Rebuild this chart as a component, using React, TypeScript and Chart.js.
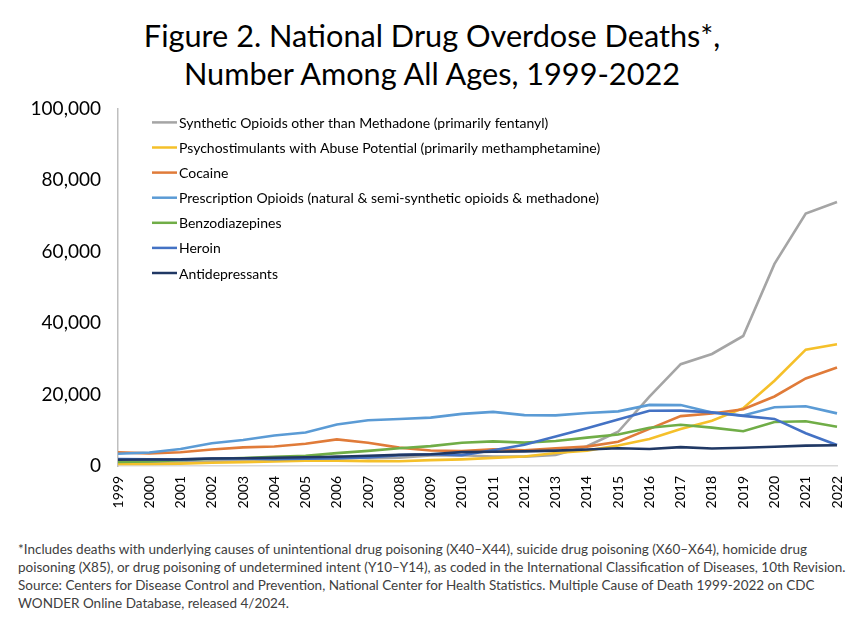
import React, { useEffect, useRef } from "react";
import { Chart, registerables } from "chart.js";

Chart.register(...registerables);

const years = ["1999","2000","2001","2002","2003","2004","2005","2006","2007","2008","2009","2010","2011","2012","2013","2014","2015","2016","2017","2018","2019","2020","2021","2022"];

const seriesNames = [
  "Synthetic Opioids other than Methadone (primarily fentanyl)",
  "Psychostimulants with Abuse Potential (primarily methamphetamine)",
  "Cocaine",
  "Prescription Opioids (natural & semi-synthetic opioids & methadone)",
  "Benzodiazepines",
  "Heroin",
  "Antidepressants",
];

const syntheticOpioids = [730, 782, 957, 1295, 1400, 1664, 1742, 2707, 2213, 2306, 2946, 3007, 2666, 2628, 3105, 5544, 9580, 19413, 28466, 31335, 36359, 56516, 70601, 73838];
const psychostimulants = [547, 578, 660, 890, 1097, 1278, 1460, 1499, 1363, 1314, 1630, 1854, 2266, 2635, 3627, 4298, 5716, 7542, 10333, 12676, 16167, 23837, 32537, 34022];
const cocaine = [3822, 3544, 3833, 4599, 5199, 5443, 6208, 7448, 6512, 5129, 4350, 4183, 4681, 4404, 4944, 5415, 6784, 10375, 13942, 14666, 15883, 19447, 24486, 27569];
const prescriptionOpioids = [3442, 3785, 4770, 6353, 7284, 8534, 9387, 11589, 12796, 13149, 13523, 14583, 15140, 14240, 14145, 14838, 15281, 17087, 17029, 14975, 14139, 16416, 16706, 14716];
const benzodiazepines = [1135, 1298, 1594, 2007, 2248, 2585, 2834, 3609, 4217, 4969, 5553, 6497, 6872, 6524, 6973, 7945, 8791, 10684, 11537, 10724, 9711, 12290, 12499, 10964];
const heroin = [1960, 1842, 1779, 2089, 2080, 1878, 2009, 2088, 2399, 3041, 3278, 3036, 4397, 5925, 8257, 10574, 12989, 15469, 15482, 14996, 14019, 13165, 9173, 5871];
const antidepressants = [1749, 1810, 1850, 2108, 2150, 2300, 2450, 2600, 2850, 3100, 3300, 3889, 3995, 4100, 4300, 4600, 4950, 4750, 5269, 4900, 5100, 5400, 5700, 5800];

const seriesValues = [syntheticOpioids, psychostimulants, cocaine, prescriptionOpioids, benzodiazepines, heroin, antidepressants];
const seriesColors = ["#A5A5A5", "#F5C02A", "#E07B39", "#5B9BD5", "#70AD47", "#4472C4", "#203864"];

const yTicks = [0, 20000, 40000, 60000, 80000, 100000];

const FONT = "Lato, 'Open Sans', sans-serif";

const legendPlugin = {
  id: "insideLegend",
  afterDraw(chart: any) {
    const { ctx, chartArea } = chart;
    const x0 = chartArea.left + 34;
    const y0 = chartArea.top + 14;
    ctx.save();
    ctx.font = `14px ${FONT}`;
    ctx.textBaseline = "middle";
    ctx.textAlign = "left";
    chart.data.datasets.forEach((ds: any, i: number) => {
      const y = y0 + i * 25.1;
      ctx.strokeStyle = ds.borderColor;
      ctx.lineWidth = 2.5;
      ctx.beginPath();
      ctx.moveTo(x0, y);
      ctx.lineTo(x0 + 25, y);
      ctx.stroke();
      ctx.fillStyle = "#000000";
      ctx.fillText(ds.label, x0 + 27, y + 1);
    });
    ctx.restore();
  },
};

function DrugChart() {
  const ref = useRef<HTMLCanvasElement | null>(null);
  useEffect(() => {
    if (!ref.current) return;
    const chart = new Chart(ref.current, {
      type: "line",
      data: {
        labels: years,
        datasets: seriesNames.map((name, i) => ({
          label: name,
          data: seriesValues[i],
          borderColor: seriesColors[i],
          backgroundColor: seriesColors[i],
          borderWidth: 2.6,
          pointRadius: 0,
          tension: 0,
          fill: false,
          order: seriesNames.length - i,
        })),
      },
      options: {
        responsive: false,
        animation: false,
        devicePixelRatio: 1,
        layout: { padding: { left: 0, right: 27, top: 0, bottom: 0 } },
        plugins: {
          legend: { display: false },
          title: { display: false },
          tooltip: { enabled: false },
        },
        scales: {
          x: {
            offset: false,
            grid: { display: false, drawTicks: false },
            border: { display: true, color: "#D9D9D9", width: 1.5 },
            ticks: {
              autoSkip: false,
              minRotation: 90,
              maxRotation: 90,
              padding: 10,
              color: "#000000",
              font: { family: FONT, size: 14 },
            },
            afterFit(scale: any) {
              scale.height = 59;
            },
          },
          y: {
            min: 0,
            max: 100000,
            afterBuildTicks(scale: any) {
              scale.ticks = yTicks.map((v) => ({ value: v }));
            },
            grid: { display: false, drawTicks: false },
            border: { display: true, color: "#BFBFBF", width: 1.5 },
            ticks: {
              padding: 17,
              color: "#000000",
              font: { family: FONT, size: 19 },
              callback: (v: any) => Number(v).toLocaleString("en-US"),
            },
            afterFit(scale: any) {
              scale.width = 118;
            },
          },
        },
      },
      plugins: [legendPlugin],
    });
    return () => chart.destroy();
  }, []);
  return <canvas ref={ref} width={864} height={445} style={{ position: "absolute", left: 0, top: 80, width: 864, height: 445 }} />;
}

export default function App() {
  return (
    <div style={{ position: "fixed", left: 0, top: 0, width: 864, height: 626, background: "#ffffff", overflow: "hidden", fontFamily: FONT }}>
      <div style={{ position: "absolute", left: 0, top: 17, width: 864, textAlign: "center", fontSize: 30.7, lineHeight: "38px", color: "#000000", whiteSpace: "nowrap" }}>
        Figure 2. National Drug Overdose Deaths*,<br />Number Among All Ages, 1999-2022
      </div>
      <DrugChart />
      <div style={{ position: "absolute", left: 18, top: 540, fontSize: 13.5, lineHeight: "18px", color: "#404040", whiteSpace: "nowrap" }}>
        *Includes deaths with underlying causes of unintentional drug poisoning (X40–X44), suicide drug poisoning (X60–X64), homicide drug<br />
        poisoning (X85), or drug poisoning of undetermined intent (Y10–Y14), as coded in the International Classification of Diseases, 10th Revision.<br />
        Source: Centers for Disease Control and Prevention, National Center for Health Statistics. Multiple Cause of Death 1999-2022 on CDC<br />
        WONDER Online Database, released 4/2024.
      </div>
    </div>
  );
}
